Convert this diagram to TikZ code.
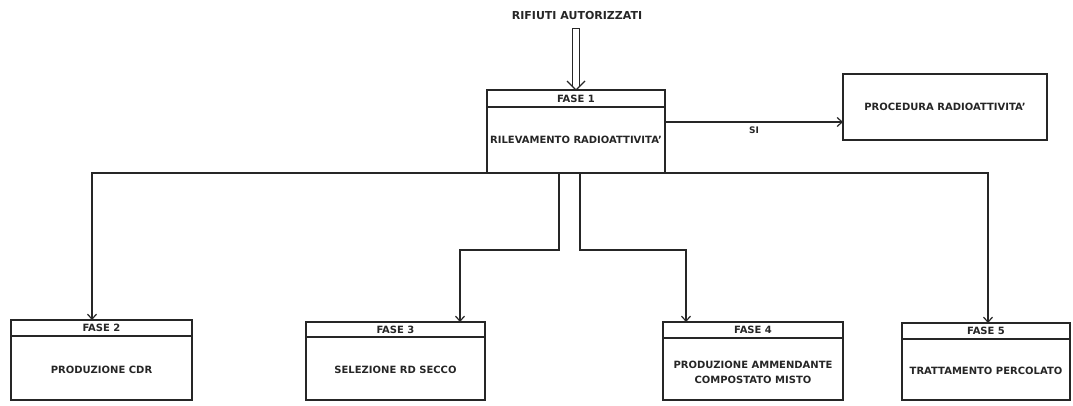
\documentclass[tikz,border=0pt]{standalone}
\usepackage{fontspec}
\setmainfont{DejaVu Sans}
\usetikzlibrary{arrows.meta,calc}
\definecolor{ink}{gray}{0.15}
\begin{document}
\begin{tikzpicture}[x=1pt,y=-1pt,
  fbox/.style={draw=ink,line width=1.3pt,inner sep=0pt,outer sep=0pt,anchor=north west},
  lbl/.style={font=\fontsize{10}{12}\selectfont\bfseries,text=ink,inner sep=1pt,align=center},
  hl/.style={draw=ink,line width=1.1pt},
  conn/.style={draw=ink,line width=1.1pt},
  arr/.style={conn,-{Straight Barb[length=5pt,width=9pt,line width=1.2pt]}}
]
\useasboundingbox (0,0) rectangle (1073,405);

% title
\node[lbl,font=\fontsize{11}{13}\selectfont\bfseries] (title) at (577,15) {RIFIUTI AUTORIZZATI};

% FASE 1
\node[fbox,minimum width=178pt,minimum height=83pt] (f1) at (487,90) {};
\draw[hl] ($(f1.north west)+(0,17)$) -- ($(f1.north east)+(0,17)$);
\node[lbl] (f1h) at ($(f1.north)+(0,8.5)$) {FASE 1};
\node[lbl] (f1t) at ($(f1.north)+(0,50)$) {RILEVAMENTO RADIOATTIVITA'};

% double (hollow) arrow from title to FASE 1
\coordinate (dtip) at (f1.north);
\coordinate (dtop) at ($(title.south)+(0,8)$);
\draw[conn,line join=miter] ($(dtip)+(-3.5,-3.5)$) -- ($(dtop -| dtip)+(-3.5,0)$) -- ($(dtop -| dtip)+(3.5,0)$) -- ($(dtip)+(3.5,-3.5)$);
\draw[conn,line join=miter] ($(dtip)+(-9,-9)$) -- (dtip) -- ($(dtip)+(9,-9)$);

% Procedura
\node[fbox,minimum width=204pt,minimum height=66pt] (proc) at (843,74) {};
\node[lbl] (proct) at (proc.center) {PROCEDURA RADIOATTIVITA'};

% FASE 2
\node[fbox,minimum width=181pt,minimum height=80pt] (f2) at (11,320) {};
\draw[hl] ($(f2.north west)+(0,16)$) -- ($(f2.north east)+(0,16)$);
\node[lbl] (f2h) at ($(f2.north)+(0,8)$) {FASE 2};
\node[lbl] (f2t) at ($(f2.north)+(0,50)$) {PRODUZIONE CDR};

% FASE 3
\node[fbox,minimum width=179pt,minimum height=78pt] (f3) at (306,322) {};
\draw[hl] ($(f3.north west)+(0,15)$) -- ($(f3.north east)+(0,15)$);
\node[lbl] (f3h) at ($(f3.north)+(0,7.5)$) {FASE 3};
\node[lbl] (f3t) at ($(f3.north)+(0,48)$) {SELEZIONE RD SECCO};

% FASE 4
\node[fbox,minimum width=180pt,minimum height=78pt] (f4) at (663,322) {};
\draw[hl] ($(f4.north west)+(0,16)$) -- ($(f4.north east)+(0,16)$);
\node[lbl] (f4h) at ($(f4.north)+(0,8)$) {FASE 4};
\node[lbl,font=\fontsize{10}{15}\selectfont\bfseries] (f4t) at ($(f4.north)+(0,50)$) {PRODUZIONE AMMENDANTE\\COMPOSTATO MISTO};

% FASE 5
\node[fbox,minimum width=168pt,minimum height=77pt] (f5) at (902,323) {};
\draw[hl] ($(f5.north west)+(0,16)$) -- ($(f5.north east)+(0,16)$);
\node[lbl] (f5h) at ($(f5.north)+(0,8)$) {FASE 5};
\node[lbl] (f5t) at ($(f5.north)+(0,48)$) {TRATTAMENTO PERCOLATO};

% connector points
\coordinate (a2) at ($(f2.north west)+(81,0)$);
\coordinate (a3) at ($(f3.north west)+(154,0)$);
\coordinate (a4) at ($(f4.north west)+(23,0)$);
\coordinate (a5) at ($(f5.north west)+(86,0)$);
\coordinate (b3) at ($(f1.south west)+(72,0)$);
\coordinate (b4) at ($(f1.south west)+(93,0)$);
\coordinate (s1) at ($(f1.north east)+(0,32)$);

\draw[arr] (f1.south) -| (a2);
\draw[arr] (f1.south) -| (a5);
\draw[arr] (b3) -- ++(0,77) -| (a3);
\draw[arr] (b4) -- ++(0,77) -| (a4);
\draw[arr] (s1) -- node[lbl,below=3pt,font=\fontsize{9}{11}\selectfont\bfseries] (si) {SI} (s1 -| proc.west);
\end{tikzpicture}
\end{document}
